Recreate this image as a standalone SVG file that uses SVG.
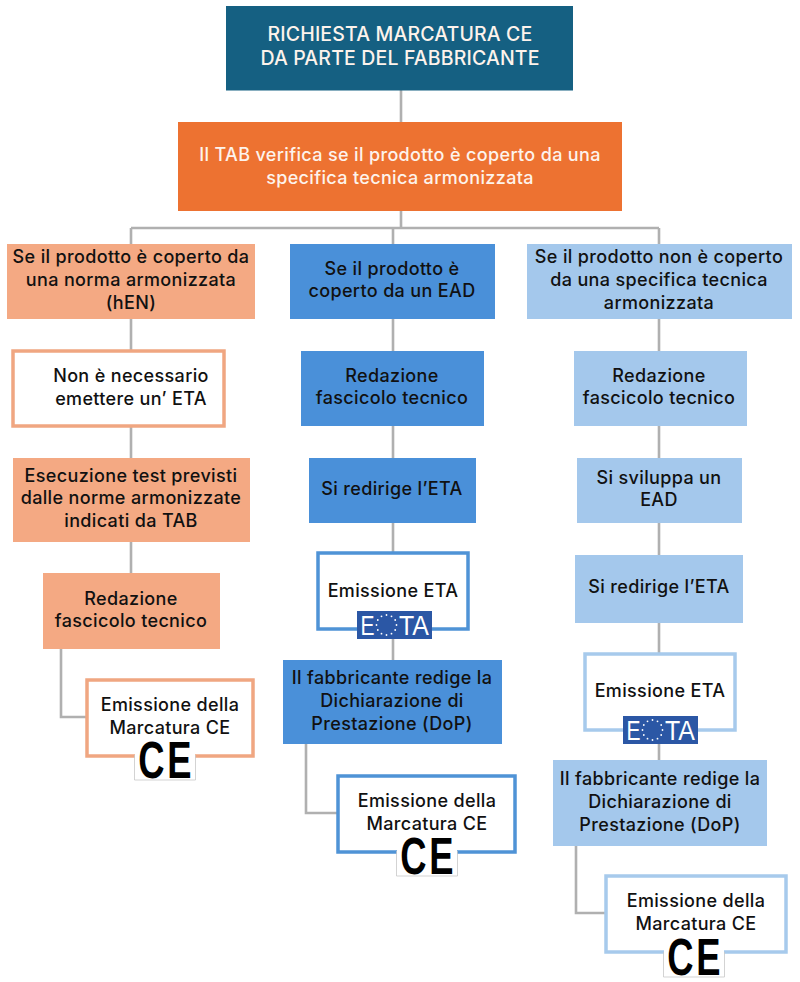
<svg xmlns="http://www.w3.org/2000/svg" width="800" height="982" viewBox="0 0 800 982">
<defs>
<g id="ce"><rect x="-30" y="-20" width="60" height="42" fill="#fff"/><path d="M-30.500 -3V22H30.500V-3" fill="none" stroke="#c8c8c8" stroke-width="0.8"/><text transform="translate(-13.500 20) scale(.7 1)" class="cem">C</text><text transform="translate(14.500 20) scale(.7 1)" class="cem">E</text></g>
<g id="eota"><rect x="-37.500" y="-14" width="75" height="28" fill="#2b57a5"/><text x="-34" y="10" class="eo" style="text-anchor:start" textLength="14" lengthAdjust="spacingAndGlyphs">E</text><text x="4.500" y="10" class="eo" style="text-anchor:start" textLength="30" lengthAdjust="spacingAndGlyphs">TA</text>
<g fill="#fff"><circle cx="-8" cy="-10" r=".9"/><circle cx="-3" cy="-8.700" r=".9"/><circle cx="0.700" cy="-5" r=".9"/><circle cx="2" cy="0" r=".9"/><circle cx="0.700" cy="5" r=".9"/><circle cx="-3" cy="8.700" r=".9"/><circle cx="-8" cy="10" r=".9"/><circle cx="-13" cy="8.700" r=".9"/><circle cx="-16.700" cy="5" r=".9"/><circle cx="-18" cy="0" r=".9"/><circle cx="-16.700" cy="-5" r=".9"/><circle cx="-13" cy="-8.700" r=".9"/></g></g>
</defs>
<style>
text{font-family:Inter,"Noto Sans","Liberation Sans",sans-serif;font-size:18px;letter-spacing:.35px;font-weight:500;text-anchor:middle;fill:#111}
text.w{fill:#fdf3ec}
.cem{font-family:"Liberation Sans",sans-serif;font-size:52px;letter-spacing:0;font-weight:700;fill:#000}
.eo{font-family:"Liberation Sans",sans-serif;font-size:28px;letter-spacing:0;font-weight:400;fill:#fff;text-anchor:middle}
.c{fill:none;stroke:#b0b0b0;stroke-width:2.600}
.o{fill:#f4a983}.b{fill:#4a90d9}.l{fill:#a4c8ec}
.wo{fill:#fff;stroke:#f0a681;stroke-width:3.500}.wb{fill:#fff;stroke:#4f93d6;stroke-width:3.500}.wl{fill:#fff;stroke:#a7caec;stroke-width:3.500}
</style>
<rect width="800" height="982" fill="#fff"/>
<g id="connectors" class="c">
<path class="c" d="M401 90V123M401 211V228M131 228H659M131 228V244M393 228V244M659 228V244"/>
<path class="c" d="M131 318V350M131 426V458M131 541V573M61 648V717H87"/>
<path class="c" d="M393 318V351M393 426V458M393 522V553M393 630V660M306 743V813H338"/>
<path class="c" d="M659 318V351M659 426V458M659 522V555M659 622V653M659 730V760M576 845V913H606"/>
</g>
<g id="n1"><rect x="226" y="6" width="347" height="84.500" fill="#156082"/><text class="w" x="400" y="41" style="font-size:19.500px;letter-spacing:.15px">RICHIESTA MARCATURA CE</text><text class="w" x="400" y="65" style="font-size:19.500px;letter-spacing:.15px">DA PARTE DEL FABBRICANTE</text></g>
<g id="n2"><rect x="178" y="122" width="444" height="89" fill="#ed7231"/><text class="w" x="400" y="161">Il TAB verifica se il prodotto è coperto da una</text><text class="w" x="400" y="183.500">specifica tecnica armonizzata</text></g>
<g id="a1"><rect class="o" x="7" y="244" width="248" height="75"/><text x="131" y="263">Se il prodotto è coperto da</text><text x="131" y="286">una norma armonizzata</text><text x="131" y="309">(hEN)</text></g>
<g id="a2"><rect class="wo" x="13" y="351" width="211" height="75"/><text x="131" y="382">Non è necessario</text><text x="131" y="405">emettere un’ ETA</text></g>
<g id="a3"><rect class="o" x="13" y="458" width="237" height="84"/><text x="131" y="482">Esecuzione test previsti</text><text x="131" y="504">dalle norme armonizzate</text><text x="131" y="527">indicati da TAB</text></g>
<g id="a4"><rect class="o" x="43" y="573" width="177" height="76"/><text x="131" y="605">Redazione</text><text x="131" y="627">fascicolo tecnico</text></g>
<g id="a5"><rect class="wo" x="87" y="680" width="166" height="76"/><text x="170" y="711">Emissione della</text><text x="170" y="734">Marcatura CE</text><use href="#ce" x="165" y="758"/></g>
<g id="b1"><rect class="b" x="290" y="244" width="205" height="75"/><text x="392" y="275">Se il prodotto è</text><text x="392" y="297">coperto da un EAD</text></g>
<g id="b2"><rect class="b" x="301" y="351" width="183" height="75"/><text x="392" y="382">Redazione</text><text x="392" y="404">fascicolo tecnico</text></g>
<g id="b3"><rect class="b" x="309" y="458" width="167" height="65"/><text x="392" y="495">Si redirige l’ETA</text></g>
<g id="b4"><rect class="wb" x="318" y="553" width="150" height="76"/><text x="393" y="597">Emissione ETA</text><use href="#eota" x="394.500" y="625"/></g>
<g id="b5"><rect class="b" x="283" y="660" width="219" height="84"/><text x="392" y="684">Il fabbricante redige la</text><text x="392" y="707">Dichiarazione di</text><text x="392" y="730">Prestazione (DoP)</text></g>
<g id="b6"><rect class="wb" x="338" y="776" width="177" height="76"/><text x="427" y="807">Emissione della</text><text x="427" y="830">Marcatura CE</text><use href="#ce" x="427" y="854"/></g>
<g id="c1"><rect class="l" x="527" y="244" width="265" height="75"/><text x="659" y="263">Se il prodotto non è coperto</text><text x="659" y="286">da una specifica tecnica</text><text x="659" y="309">armonizzata</text></g>
<g id="c2"><rect class="l" x="574" y="351" width="173" height="75"/><text x="659" y="382">Redazione</text><text x="659" y="404">fascicolo tecnico</text></g>
<g id="c3"><rect class="l" x="577" y="458" width="165" height="65"/><text x="659" y="484">Si sviluppa un</text><text x="659" y="506">EAD</text></g>
<g id="c4"><rect class="l" x="575" y="555" width="168" height="68"/><text x="659" y="593">Si redirige l’ETA</text></g>
<g id="c5"><rect class="wl" x="585" y="654" width="150" height="76"/><text x="660" y="697">Emissione ETA</text><use href="#eota" x="660.500" y="730"/></g>
<g id="c6"><rect class="l" x="553" y="760" width="214" height="86"/><text x="660" y="785">Il fabbricante redige la</text><text x="660" y="808">Dichiarazione di</text><text x="660" y="831">Prestazione (DoP)</text></g>
<g id="c7"><rect class="wl" x="606" y="876" width="180" height="76"/><text x="696" y="907">Emissione della</text><text x="696" y="930">Marcatura CE</text><use href="#ce" x="694" y="955"/></g>
</svg>
